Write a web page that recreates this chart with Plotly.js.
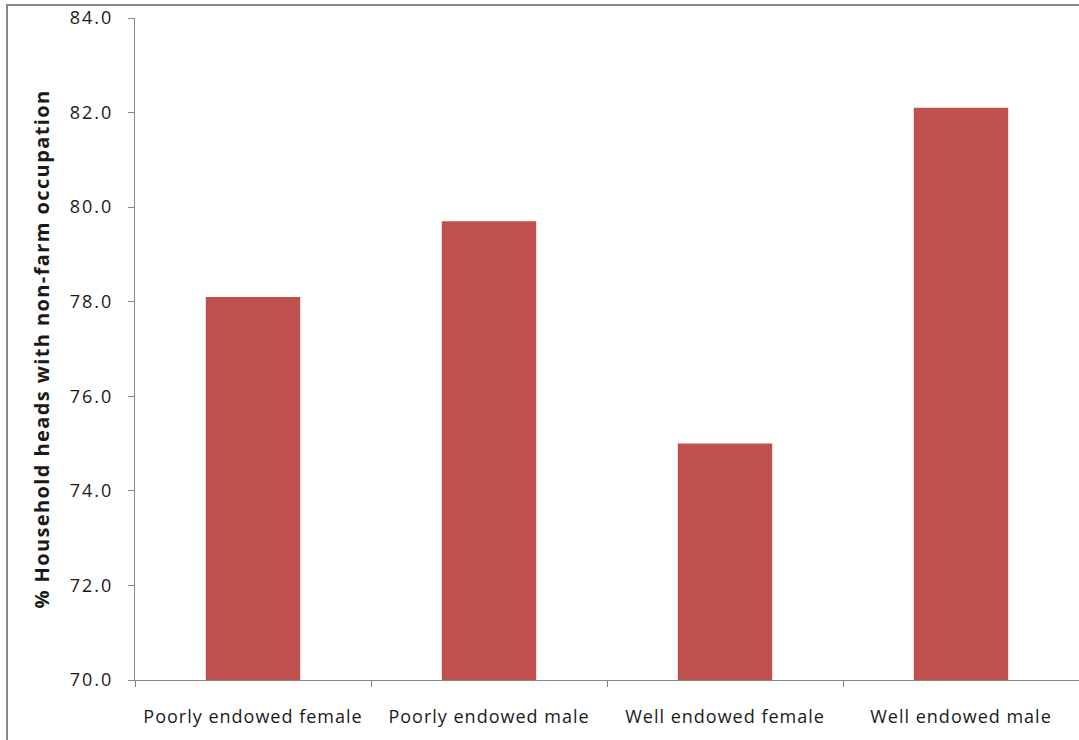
<!DOCTYPE html>
<html>
<head>
<meta charset="utf-8">
<script src="https://cdn.plot.ly/plotly-3.0.1.min.js"></script>
<style>
  html, body { margin: 0; padding: 0; background: #fff; overflow: hidden; }
  #frame { position: absolute; left: 6px; top: 4px; width: 1200px; height: 900px;
           border: 2px solid #888; box-sizing: border-box; pointer-events: none; z-index: 2; }
  #chart { position: absolute; left: 0; top: 0; width: 1079px; height: 740px; }
  #chart .xtick text { letter-spacing: 1px; }
  #chart .ytick text { letter-spacing: 2px; }
  #chart .ytitle { letter-spacing: 1.4px; }
</style>
</head>
<body>
<div id="chart"></div>
<div id="frame"></div>
<script>
// Share of household heads with a non-farm occupation, by endowment and sex
const groups = ["Poorly endowed female", "Poorly endowed male", "Well endowed female", "Well endowed male"];
const nonFarmShare = [78.1, 79.7, 75.0, 82.1];
const yTicks = [70, 72, 74, 76, 78, 80, 82, 84];
const yTickLabels = yTicks.map(v => v.toFixed(1));

const font = "'Open Sans', sans-serif";
const textColor = "#1a1a1a";

const trace = {
  type: "bar",
  x: groups,
  y: nonFarmShare,
  marker: { color: "#C0504D", line: { width: 0 } },
  hoverinfo: "x+y"
};

const layout = {
  width: 1079,
  height: 740,
  margin: { l: 135, r: 0, t: 18, b: 60 },
  paper_bgcolor: "#fff",
  plot_bgcolor: "#fff",
  bargap: 0.6,
  showlegend: false,
  font: { family: font, size: 18, color: textColor },
  xaxis: {
    type: "category",
    showline: true,
    linecolor: "#868686",
    linewidth: 1,
    ticks: "outside",
    tickson: "boundaries",
    ticklen: 6,
    tickcolor: "#868686",
    showgrid: false,
    ticklabelstandoff: 20,
    tickfont: { family: font, size: 18, color: textColor },
    automargin: false
  },
  yaxis: {
    range: [70, 84],
    tickvals: yTicks,
    ticktext: yTickLabels,
    showline: true,
    linecolor: "#868686",
    linewidth: 1,
    ticks: "outside",
    ticklen: 6,
    tickcolor: "#868686",
    showgrid: false,
    zeroline: false,
    ticklabelstandoff: 11,
    tickfont: { family: font, size: 18, color: textColor },
    title: {
      text: "% Household heads with non-farm occupation",
      font: { family: font, size: 20, color: textColor, weight: "bold" },
      standoff: 22
    },
    automargin: false
  }
};

Plotly.newPlot("chart", [trace], layout, { displayModeBar: false, staticPlot: true });
</script>
</body>
</html>
